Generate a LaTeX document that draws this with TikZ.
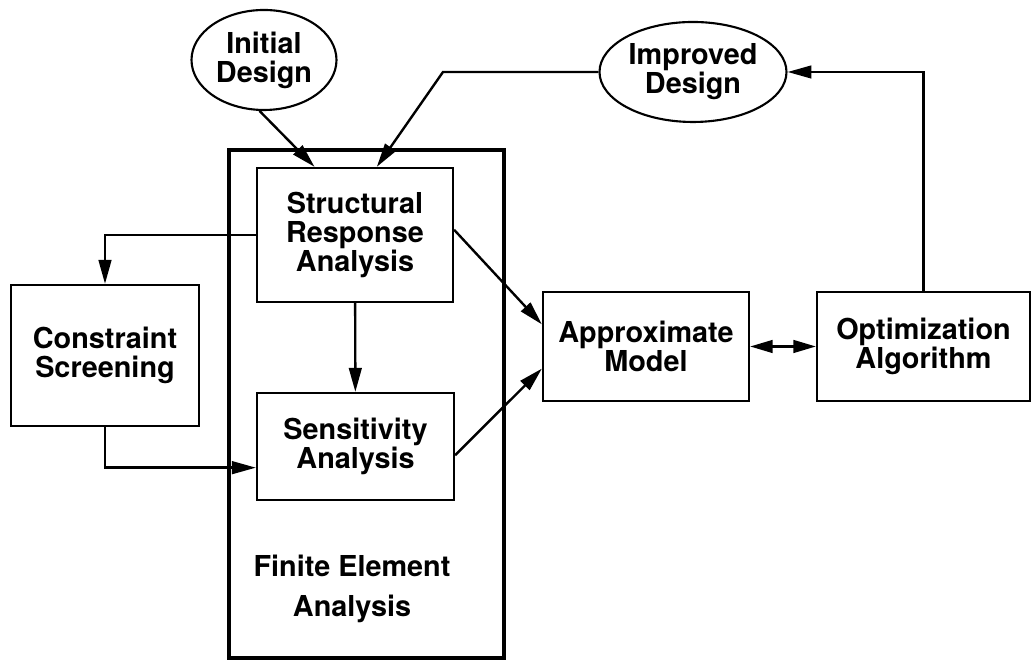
\documentclass[tikz,border=0pt]{standalone}
\usepackage{fontspec}
\setmainfont{TeX Gyre Heros}
\usetikzlibrary{arrows.meta,positioning,calc,shapes.geometric}

\begin{document}
\begin{tikzpicture}[>=Triangle,
    % ---- styles ----
    B/.style={draw=black, line width=1.6pt, align=center, inner sep=2pt,
              font=\fontsize{20.5}{20.6}\selectfont\bfseries},
    E/.style={ellipse, draw=black, line width=1.5pt, align=center, inner sep=0pt,
              font=\fontsize{20.5}{20.6}\selectfont\bfseries},
    FE/.style={draw=black, line width=3.5pt},
    A/.style={-{Triangle[length=17pt, width=9pt]}, line width=1.7pt},
    AA/.style={{Triangle[length=16pt, width=9pt]}-{Triangle[length=16pt, width=9pt]},
               line width=1.7pt},
    T/.style={align=center, font=\fontsize{20.5}{28}\selectfont\bfseries},
]
\useasboundingbox (0,0) rectangle (25.825,16.525);

% ===== Finite element block =====
\node[FE, minimum width=6.875cm, minimum height=12.7cm] (fea) at (9.1625,6.425) {};
\node[B, minimum width=4.9cm, minimum height=3.35cm] (sra) at (8.875,10.65)
    {Structural\\Response\\Analysis};
\node[B, minimum width=4.925cm, minimum height=2.675cm] (sens) at (8.8875,5.3625)
    {Sensitivity\\Analysis};
\node[T] (fealbl) at (8.8,1.8) {Finite Element\\Analysis};

% ===== Left: screening =====
\node[B, minimum width=4.7cm, minimum height=3.525cm] (cons) at (2.625,7.6375)
    {Constraint\\Screening};

% ===== Right: model and optimizer =====
\node[B, minimum width=5.15cm, minimum height=2.725cm] (approx) at (16.15,7.8625)
    {Approximate\\Model};
\node[B, minimum width=5.325cm, minimum height=2.725cm] (opt) at (23.0875,7.8625)
    {Optimization\\Algorithm};

% ===== Designs =====
\node[E, minimum width=3.625cm, minimum height=2.5cm] (init) at (6.6,15.025)
    {Initial\\Design};
\node[E, minimum width=4.675cm, minimum height=2.5cm] (imp) at (17.325,14.725)
    {Improved\\Design};

\coordinate (sraIn1) at ($(sra.north west)!0.296!(sra.north east)$);
\coordinate (sraIn2) at ($(sra.north west)!0.61!(sra.north east)$);
\coordinate (bend) at (11.075,14.725);

% design inputs
\draw[A] (init.265) -- (sraIn1);
\draw[A] (imp.west) -- (bend) -- (sraIn2);

% screening loop
\draw[A] (sra.west) -| (cons.north);
\draw[A] (cons.south) |- (sens.192);
\draw[A] (sra) -- (sens);

% to the model
\draw[A] (sra.3) -- (approx.168);
\draw[A] (sens.-5) -- (approx.192);
\draw[AA] (approx) -- (opt);

% optimizer feedback
\draw[A] (opt.north) |- (imp.east);

\end{tikzpicture}
\end{document}
